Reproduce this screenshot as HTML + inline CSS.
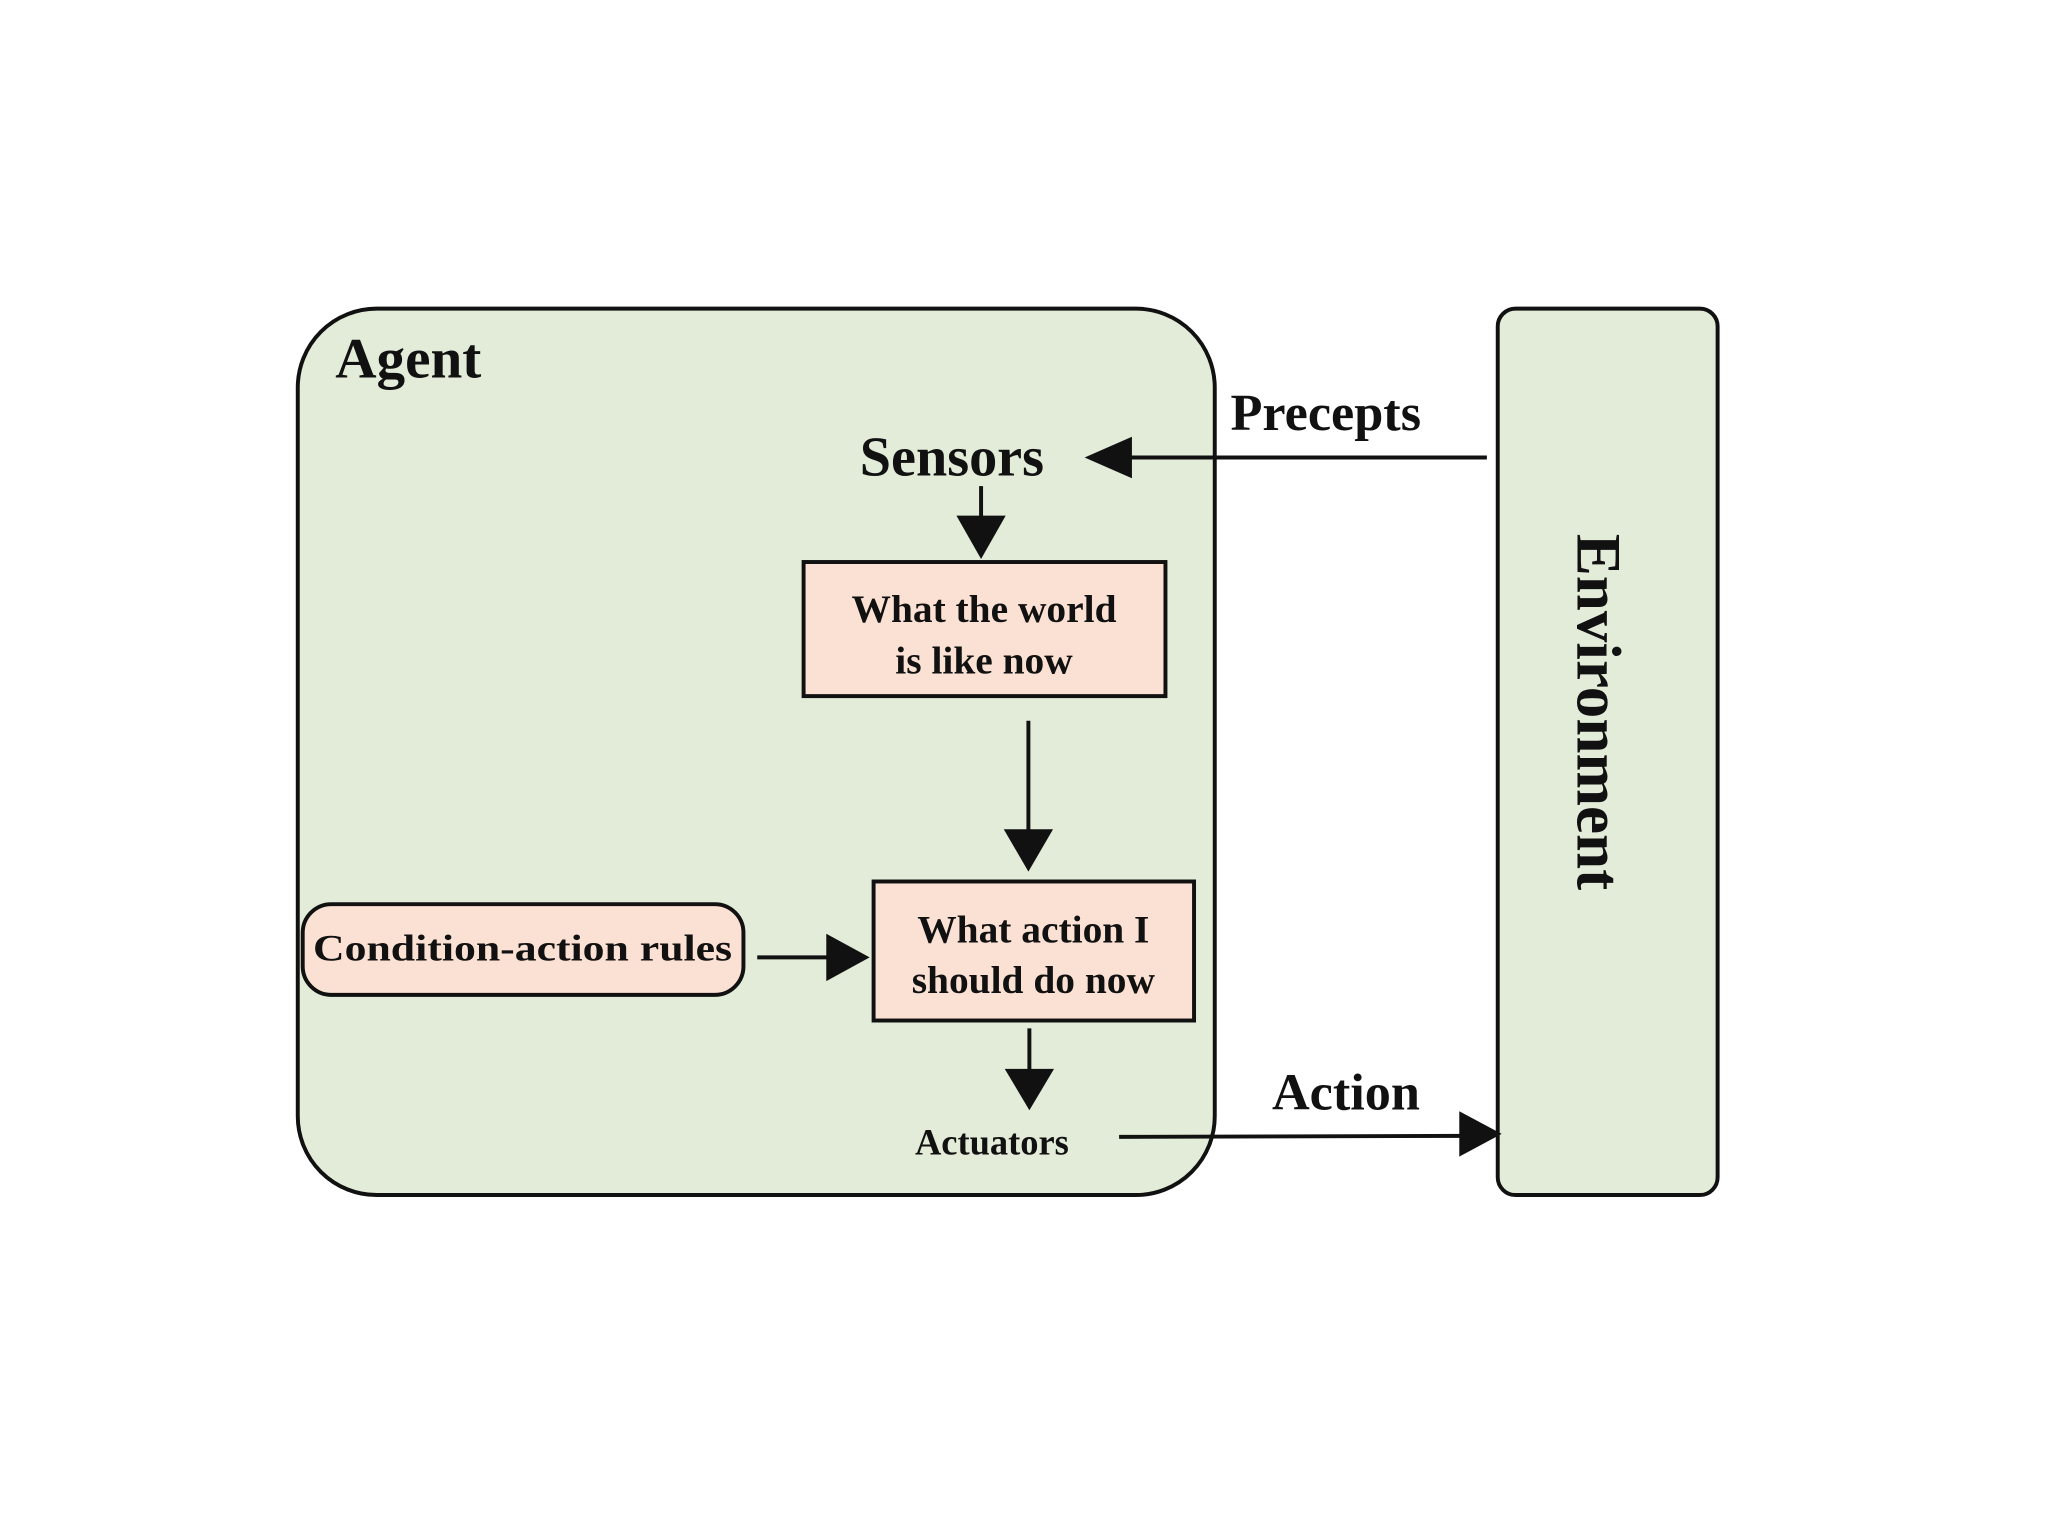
<!DOCTYPE html>
<html><head><meta charset="utf-8"><style>
html,body{margin:0;padding:0;background:#fff;}
svg{display:block;}
text{font-family:"Liberation Serif",serif;font-weight:bold;fill:#111;}
</style></head><body>
<svg width="2048" height="1536" viewBox="0 0 2048 1536" xmlns="http://www.w3.org/2000/svg">
<g transform="scale(0.986)">
<rect x="302" y="313" width="930" height="899" rx="80" ry="80" fill="#e2ecd8" stroke="#111" stroke-width="4"/>
<rect x="1519" y="313" width="223" height="899" rx="18" ry="18" fill="#e2ecd8" stroke="#111" stroke-width="4"/>
<text x="340" y="383" font-size="58">Agent</text>
<text x="872" y="482" font-size="57">Sensors</text>
<text x="1248" y="436" font-size="53">Precepts</text>
<text x="1290" y="1125" font-size="53">Action</text>
<text x="1006" y="1171" font-size="37" text-anchor="middle">Actuators</text>
<text transform="translate(1600,722) rotate(90)" font-size="64" text-anchor="middle">Environment</text>
<line x1="1508" y1="464" x2="1140" y2="464" stroke="#111" stroke-width="4"/>
<polygon points="1100,464 1148,443 1148,485" fill="#111"/>
<line x1="995" y1="493" x2="995" y2="530" stroke="#111" stroke-width="4"/>
<polygon points="995,567 970,523 1020,523" fill="#111"/>
<rect x="815" y="570" width="367" height="136" fill="#fbe1d4" stroke="#111" stroke-width="4"/>
<text x="998" y="631" font-size="40" text-anchor="middle">What the world</text>
<text x="998" y="683" font-size="40" text-anchor="middle">is like now</text>
<line x1="1043" y1="731" x2="1043" y2="850" stroke="#111" stroke-width="4"/>
<polygon points="1043,884 1018,841 1068,841" fill="#111"/>
<rect x="886" y="894" width="325" height="141" fill="#fbe1d4" stroke="#111" stroke-width="4"/>
<text x="1048" y="956" font-size="40" text-anchor="middle">What action I</text>
<text x="1048" y="1007" font-size="40" text-anchor="middle">should do now</text>
<rect x="307" y="917" width="447" height="92" rx="29" ry="29" fill="#fbe1d4" stroke="#111" stroke-width="4"/>
<text x="530" y="974" font-size="37" text-anchor="middle" textLength="425" lengthAdjust="spacingAndGlyphs">Condition-action rules</text>
<line x1="768" y1="971" x2="845" y2="971" stroke="#111" stroke-width="4"/>
<polygon points="882,971 838,947 838,995" fill="#111"/>
<line x1="1044" y1="1043" x2="1044" y2="1090" stroke="#111" stroke-width="4"/>
<polygon points="1044,1126 1019,1084 1069,1084" fill="#111"/>
<line x1="1135" y1="1153" x2="1485" y2="1152" stroke="#111" stroke-width="4"/>
<polygon points="1523,1150 1480,1127 1480,1173" fill="#111"/>
</g>
</svg>
</body></html>
